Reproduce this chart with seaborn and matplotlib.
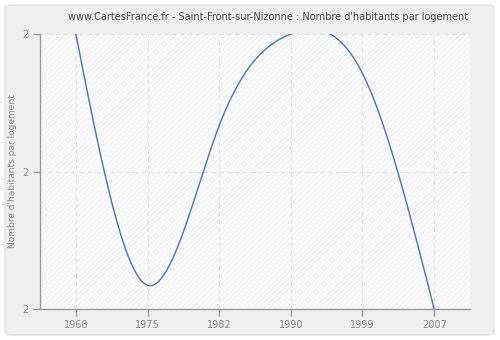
import numpy as np
import pandas as pd
import matplotlib
matplotlib.use("Agg")
import matplotlib.pyplot as plt
import seaborn as sns
from matplotlib.patches import FancyBboxPatch, Rectangle

years = ["1968", "1975", "1982", "1990", "1999", "2007"]
values = [2.30, 2.026, 2.20, 2.30, 2.257, 2.00]
y_ticks = [2.0, 2.15, 2.3]
y_tick_labels = ["2", "2", "2"]
title = "www.CartesFrance.fr - Saint-Front-sur-Nizonne : Nombre d'habitants par logement"
ylabel = "Nombre d'habitants par logement"


def natural_spline(xv, yv, n=60):
    """Natural cubic spline through the data points (smooth rendering only)."""
    xv = np.asarray(xv, float)
    yv = np.asarray(yv, float)
    m = len(xv)
    h = np.diff(xv)
    A = np.zeros((m, m))
    r = np.zeros(m)
    A[0, 0] = 1
    A[-1, -1] = 1
    for i in range(1, m - 1):
        A[i, i - 1] = h[i - 1]
        A[i, i] = 2 * (h[i - 1] + h[i])
        A[i, i + 1] = h[i]
        r[i] = 6 * ((yv[i + 1] - yv[i]) / h[i] - (yv[i] - yv[i - 1]) / h[i - 1])
    M = np.linalg.solve(A, r)
    xs, ys = [], []
    for i in range(m - 1):
        t = np.linspace(xv[i], xv[i + 1], n, endpoint=(i == m - 2))
        a = xv[i + 1] - t
        b = t - xv[i]
        s = (M[i] * a ** 3 + M[i + 1] * b ** 3) / (6 * h[i]) \
            + (yv[i] / h[i] - M[i] * h[i] / 6) * a \
            + (yv[i + 1] / h[i] - M[i + 1] * h[i] / 6) * b
        xs.extend(t)
        ys.extend(s)
    return np.array(xs), np.array(ys)


sns.set_style("white")
plt.rcParams["font.family"] = ["DejaVu Sans"]
plt.rcParams["hatch.linewidth"] = 0.6

fig = plt.figure(figsize=(5, 3.4), dpi=100)
fig.patch.set_facecolor("white")
bg = FancyBboxPatch((5 / 500, 5 / 340), 489 / 500, 330 / 340,
                    boxstyle="round,pad=0,rounding_size=0.012",
                    transform=fig.transFigure, facecolor="#efefef",
                    edgecolor="#e2e2e2", linewidth=1, zorder=-10)
fig.patches.append(bg)

ax = fig.add_axes([40 / 500, 1 - 309 / 340, 430 / 500, 275 / 340])
ax.set_zorder(5)
ax.set_facecolor("#fbfbfb")
ax.add_patch(Rectangle((0, 0), 1, 1, transform=ax.transAxes, facecolor="#fbfbfb",
                       edgecolor="#ebebeb", hatch="//////", linewidth=0, zorder=0))

xidx = np.arange(len(years), dtype=float)
cx, cy = natural_spline(xidx, values)
df = pd.DataFrame({"x": cx, "y": cy})
sns.lineplot(data=df, x="x", y="y", sort=False, estimator=None, ax=ax,
             color="#4a75b0", linewidth=1.0, zorder=3)

ax.set_xlim(-0.5, len(years) - 0.5)
ax.set_ylim(min(y_ticks), max(y_ticks))
ax.set_xticks(xidx)
ax.set_xticklabels(years)
ax.set_yticks(y_ticks)
ax.set_yticklabels(y_tick_labels)
ax.set_xlabel("")
ax.set_ylabel(ylabel, fontsize=6.5, color="#888888", labelpad=4)

ax.grid(True, color="#e2e2e2", linestyle=(0, (4, 3)), linewidth=0.8, zorder=1)
ax.set_axisbelow(True)
for side in ["top", "right"]:
    ax.spines[side].set_visible(False)
for side in ["left", "bottom"]:
    ax.spines[side].set_color("#999999")
    ax.spines[side].set_linewidth(1)
ax.tick_params(axis="both", which="both", direction="out", length=5, width=1,
               color="#999999", labelcolor="#888888", labelsize=7, pad=3,
               left=True, bottom=True)

fig.text(268 / 500, 1 - 17 / 340, title, ha="center", va="center",
         fontsize=7, color="#444444")

fig.savefig("out.png", dpi=100, facecolor=fig.get_facecolor())
